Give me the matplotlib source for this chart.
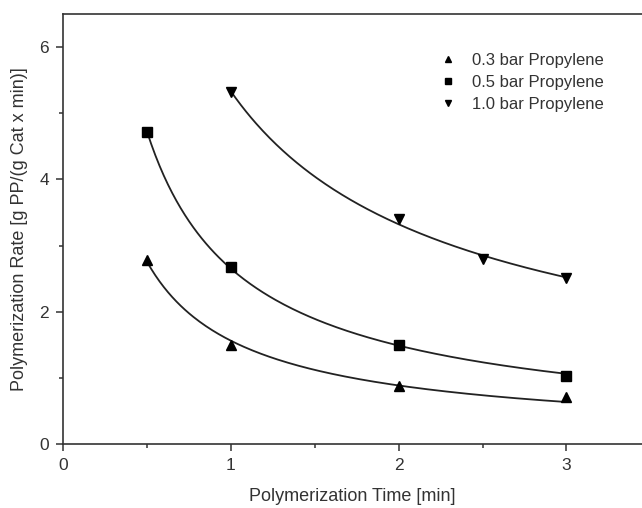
import numpy as np
import matplotlib
matplotlib.use("Agg")
import matplotlib.pyplot as plt
from matplotlib.ticker import MultipleLocator

plt.rcParams['font.family'] = ['Liberation Sans', 'DejaVu Sans']

# data
time_03 = [0.5, 1.0, 2.0, 3.0]
rate_03 = [2.78, 1.50, 0.87, 0.71]
time_05 = [0.5, 1.0, 2.0, 3.0]
rate_05 = [4.72, 2.67, 1.50, 1.03]
time_10 = [1.0, 2.0, 2.5, 3.0]
rate_10 = [5.32, 3.40, 2.79, 2.51]

labels = ["0.3 bar Propylene", "0.5 bar Propylene", "1.0 bar Propylene"]
markers = ["^", "s", "v"]


def power_fit(x, y):
    # y = a * x**b, grid over b, linear lsq for a
    x = np.asarray(x)
    y = np.asarray(y)
    best = None
    for b in np.linspace(-2.0, 0.0, 4001):
        g = x ** b
        a = np.dot(g, y) / np.dot(g, g)
        err = np.sum((a * g - y) ** 2)
        if best is None or err < best[0]:
            best = (err, a, b)
    _, a, b = best
    return lambda xx: a * xx ** b


fig = plt.figure(figsize=(6.42, 5.08), dpi=100)
ax = fig.add_axes([63 / 642, 64 / 508, 1 - 63 / 642, (444 - 14) / 508])

handles = []
for xs, ys, m, lab in zip([time_03, time_05, time_10], [rate_03, rate_05, rate_10], markers, labels):
    f = power_fit(xs, ys)
    xx = np.linspace(min(xs), max(xs), 200)
    ax.plot(xx, f(xx), color="#222222", lw=1.3)
    h, = ax.plot(xs, ys, ls="none", marker=m, color="black", ms=6.5)
    handles.append(h)

ax.set_xlim(0, 3.45)
ax.set_ylim(0, 6.5)
ax.xaxis.set_major_locator(MultipleLocator(1))
ax.xaxis.set_minor_locator(MultipleLocator(0.5))
ax.yaxis.set_major_locator(MultipleLocator(2))
ax.yaxis.set_minor_locator(MultipleLocator(1))
ax.tick_params(which="major", direction="out", length=5, width=1.1, labelsize=12.5,
               color="#333333", labelcolor="#333333", pad=5)
ax.tick_params(which="minor", direction="out", length=3, width=1.1, color="#333333")
ax.spines["right"].set_visible(False)
for s in ["left", "bottom", "top"]:
    ax.spines[s].set_linewidth(1.2)
    ax.spines[s].set_color("#333333")

ax.set_xlabel("Polymerization Time [min]", fontsize=13, labelpad=11, color="#333333")
ax.set_ylabel("Polymerization Rate [g PP/(g Cat x min)]", fontsize=13, labelpad=8, color="#333333")

ax.legend(handles, labels, loc="upper left", bbox_to_anchor=(0.651, 0.91), frameon=False,
          fontsize=12, handlelength=1.0, handletextpad=0.95, labelspacing=0.42,
          borderaxespad=0, borderpad=0, markerscale=0.75, labelcolor="#333333")

fig.savefig("out.png", dpi=100)
